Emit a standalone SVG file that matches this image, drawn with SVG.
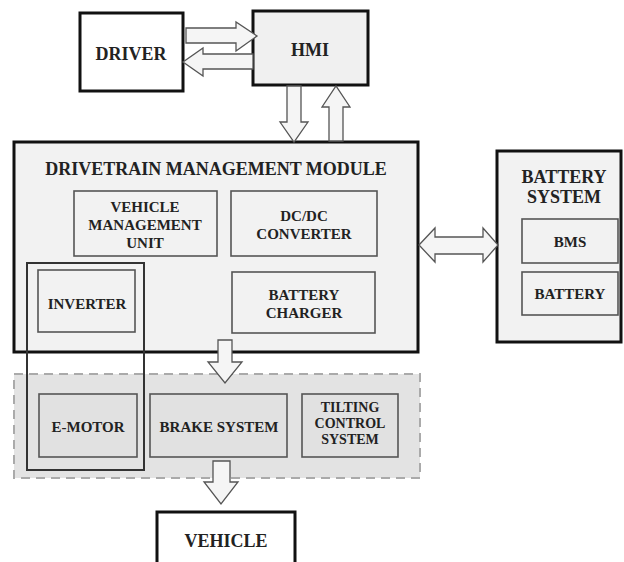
<svg xmlns="http://www.w3.org/2000/svg" width="624" height="562" viewBox="0 0 624 562">
<style>
text{font-family:"Liberation Serif","Times New Roman",serif;font-weight:bold;fill:#222;text-anchor:middle}
.big{font-size:18px}
.mid{font-size:15px}
.sm{font-size:14px}
.outer{stroke:#111;stroke-width:3;fill:#f2f2f2}
.inner{stroke:#555;stroke-width:1.6;fill:#f2f2f2}
.inner2{stroke:#555;stroke-width:1.6;fill:#e1e1e1}
.arrow{fill:#f5f5f5;stroke:#555;stroke-width:1.3;stroke-linejoin:miter}
</style>
<rect width="624" height="562" fill="#fff"/>
<g id="driver">
<rect x="80" y="13" width="103" height="78" class="outer" fill="#fff" style="fill:#fff"/>
<text x="131" y="60" class="big">DRIVER</text>
</g>
<g id="hmi">
<rect x="253" y="11" width="115" height="74" class="outer" style="fill:#f0f0f0"/>
<text x="310" y="56" class="big">HMI</text>
</g>
<g id="dmm">
<rect x="14" y="142" width="404" height="210" class="outer"/>
<text x="216" y="175" class="big">DRIVETRAIN MANAGEMENT MODULE</text>
</g>
<g id="vmu">
<rect x="74" y="191" width="143" height="65" class="inner"/>
<text x="145" y="212" class="mid">VEHICLE</text>
<text x="145" y="230" class="mid">MANAGEMENT</text>
<text x="145" y="248" class="mid">UNIT</text>
</g>
<g id="dcdc">
<rect x="231" y="191" width="146" height="65" class="inner"/>
<text x="304" y="221" class="mid">DC/DC</text>
<text x="304" y="239" class="mid">CONVERTER</text>
</g>
<g id="inverter">
<rect x="38" y="270" width="97" height="62" class="inner"/>
<text x="87" y="309" class="mid">INVERTER</text>
</g>
<g id="charger">
<rect x="232" y="272" width="143" height="61" class="inner"/>
<text x="304" y="300" class="mid">BATTERY</text>
<text x="304" y="318" class="mid">CHARGER</text>
</g>
<g id="battery-system">
<rect x="497" y="151" width="124" height="191" class="outer"/>
<text x="564" y="183" class="big">BATTERY</text>
<text x="564" y="203" class="big">SYSTEM</text>
</g>
<g id="bms">
<rect x="522" y="219" width="96" height="44" class="inner"/>
<text x="570" y="247" class="mid">BMS</text>
</g>
<g id="battery">
<rect x="522" y="272" width="96" height="43" class="inner"/>
<text x="570" y="299" class="mid">BATTERY</text>
</g>
<g id="actuators">
<rect x="14" y="374" width="406" height="104" fill="#e3e3e3" stroke="#aaa" stroke-width="2" stroke-dasharray="9,6"/>
</g>
<g id="emotor">
<rect x="39" y="394" width="98" height="63" class="inner2"/>
<text x="88" y="432" class="mid">E-MOTOR</text>
</g>
<g id="brake">
<rect x="150" y="394" width="137" height="63" class="inner2"/>
<text x="219" y="432" class="mid">BRAKE SYSTEM</text>
</g>
<g id="tilting">
<rect x="302" y="394" width="96" height="63" class="inner2"/>
<text x="350" y="412" class="sm">TILTING</text>
<text x="350" y="428" class="sm">CONTROL</text>
<text x="350" y="444" class="sm">SYSTEM</text>
</g>
<g id="inverter-motor-group">
<rect x="27" y="263" width="117" height="207" fill="none" stroke="#333" stroke-width="2"/>
</g>
<g id="vehicle">
<rect x="157" y="512" width="138" height="60" class="outer" style="fill:#fff"/>
<text x="226" y="547" class="big">VEHICLE</text>
</g>
<g id="connectors">
<polygon class="arrow" points="186,28 236,28 236,22 257,36 236,51 236,43 186,43"/>
<polygon class="arrow" points="253,54 203,54 203,48 183,62 203,76 203,69 253,69"/>
<polygon class="arrow" points="287,86 301,86 301,122 308,122 294,142 280,122 287,122"/>
<polygon class="arrow" points="329,141 343,141 343,107 350,107 336,86 322,107 329,107"/>
<polygon class="arrow" points="419,245 435,228 435,237 483,237 483,228 498,245 483,262 483,254 435,254 435,262"/>
<polygon class="arrow" points="218,340 232,340 232,362 242,362 225,383 208,362 218,362"/>
<polygon class="arrow" points="213,461 230,461 230,482 238,482 221,504 204,482 213,482"/>
</g>
</svg>
